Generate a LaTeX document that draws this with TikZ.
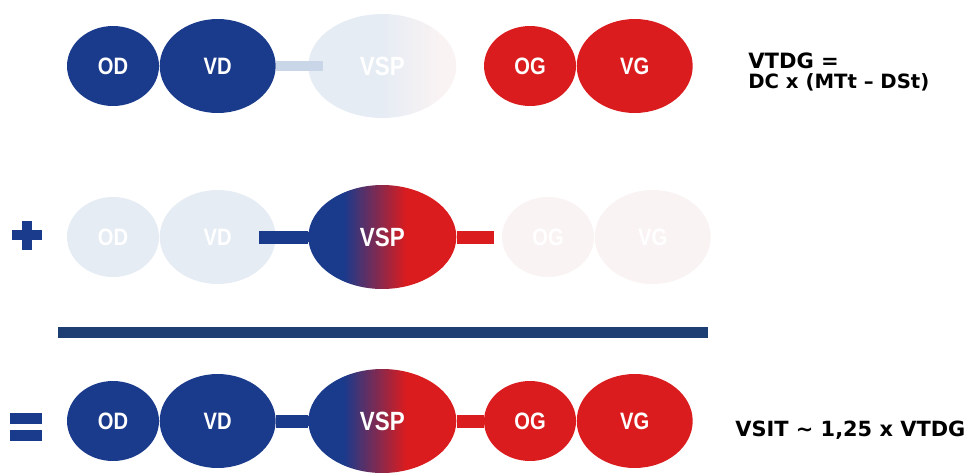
\documentclass[tikz,border=0pt]{standalone}
\usepackage{fontspec}
\usepackage{tikz}
\usetikzlibrary{positioning}
\usetikzlibrary{shapes.geometric}
\newfontfamily\lblfont[FakeStretch=0.85]{Liberation Sans}
\newfontfamily\eqfont{DejaVu Sans}
\definecolor{bleuC}{RGB}{26,58,140}
\definecolor{rougeC}{RGB}{218,28,30}
\definecolor{barC}{RGB}{28,62,115}
\definecolor{ghostB}{RGB}{230,236,244}
\definecolor{ghostR}{RGB}{250,243,243}
\definecolor{ghostL}{RGB}{200,214,232}
\pgfdeclarehorizontalshading{vspshade}{100bp}{color(0bp)=(bleuC); color(37bp)=(bleuC); color(58bp)=(rougeC); color(100bp)=(rougeC)}
\pgfdeclarehorizontalshading{vspghost}{100bp}{color(0bp)=(ghostB); color(50bp)=(ghostB); color(70bp)=(ghostR); color(100bp)=(ghostR)}
\tikzstyle{sml}=[shape=ellipse, node distance=0cm, minimum width=1.84cm, minimum height=1.6cm, inner sep=0pt, text=white, font=\lblfont\bfseries\fontsize{13.5}{13.5}\selectfont]
\tikzstyle{big}=[sml, minimum width=2.32cm, minimum height=1.88cm]
\tikzstyle{mid}=[sml, minimum width=2.96cm, minimum height=2.08cm, font=\lblfont\bfseries\fontsize{15}{15}\selectfont]
\tikzstyle{lnk}=[line width=0.26cm]
\tikzstyle{formula}=[anchor=base west, inner sep=0pt, font=\eqfont\bfseries]
\def\osb{\node[style=sml, fill=bleuC]}
\def\obb{\node[style=big, fill=bleuC]}
\def\osr{\node[style=sml, fill=rougeC]}
\def\obr{\node[style=big, fill=rougeC]}
\def\osg{\node[style=sml, fill=ghostB]}
\def\obg{\node[style=big, fill=ghostB]}
\def\osp{\node[style=sml, fill=ghostR]}
\def\obp{\node[style=big, fill=ghostR]}
\def\vsp{\node[style=mid, shading=vspshade]}
\def\vsg{\node[style=mid, shading=vspghost]}
\def\lnk{\draw[style=lnk]}

\begin{document}
\begin{tikzpicture}[x=0.02cm, y=-0.02cm]
      \useasboundingbox (0,0) rectangle (971,474);
      % next
      \osb (OD1) at (113,66)             {OD};
      \obb (VD1) [right=of OD1]          {VD};
      \vsg (VSP1) [right=0.64cm of VD1]  {VSP};
      \osr (OG1) [right=0.54cm of VSP1]  {OG};
      \obr (VG1) [right=of OG1]          {VG};

      \lnk [ghostL, line width=0.2cm] (VD1.east) -- ([xshift=0.3cm]VSP1.west);

      \node[formula, font=\eqfont\bfseries\fontsize{12}{12}\selectfont] (T1) at (748,68) {VTDG =};
      \node[formula, font=\eqfont\bfseries\fontsize{11.2}{11.2}\selectfont] (T2) at (748,88) {DC x (MTt – DSt)};
      % next
      \fill[bleuC] (12,230) rectangle (42,240);
      \fill[bleuC] (22,221) rectangle (32,250);

      \osg (OD2) at (113,237)            {OD};
      \obg (VD2) [right=of OD2]          {VD};
      \vsp (VSP2) [right=0.64cm of VD2]  {VSP};
      \osp (OG2) [right=0.9cm of VSP2]   {OG};
      \obp (VG2) [right=of OG2]          {VG};

      \lnk [bleuC]  ([xshift=-0.34cm]VD2.east) -- (VSP2.west);
      \lnk [rougeC] (VSP2.east) -- ([xshift=-0.16cm]OG2.west);
      % next
      \fill[barC] (58,327) rectangle (708,338);
      % next
      \fill[bleuC] (10,413) rectangle (42,424);
      \fill[bleuC] (10,430) rectangle (42,441);

      \osb (OD3) at (113,421)            {OD};
      \obb (VD3) [right=of OD3]          {VD};
      \vsp (VSP3) [right=0.64cm of VD3]  {VSP};
      \osr (OG3) [right=0.54cm of VSP3]  {OG};
      \obr (VG3) [right=of OG3]          {VG};

      \lnk [bleuC]  (VD3.east) -- (VSP3.west);
      \lnk [rougeC] (VSP3.east) -- (OG3.west);

      \node[formula, font=\eqfont\bfseries\fontsize{11.9}{11.9}\selectfont] (T3) at (735,436) {VSIT \char"223C{} 1,25 x VTDG};

\end{tikzpicture}
\end{document}
